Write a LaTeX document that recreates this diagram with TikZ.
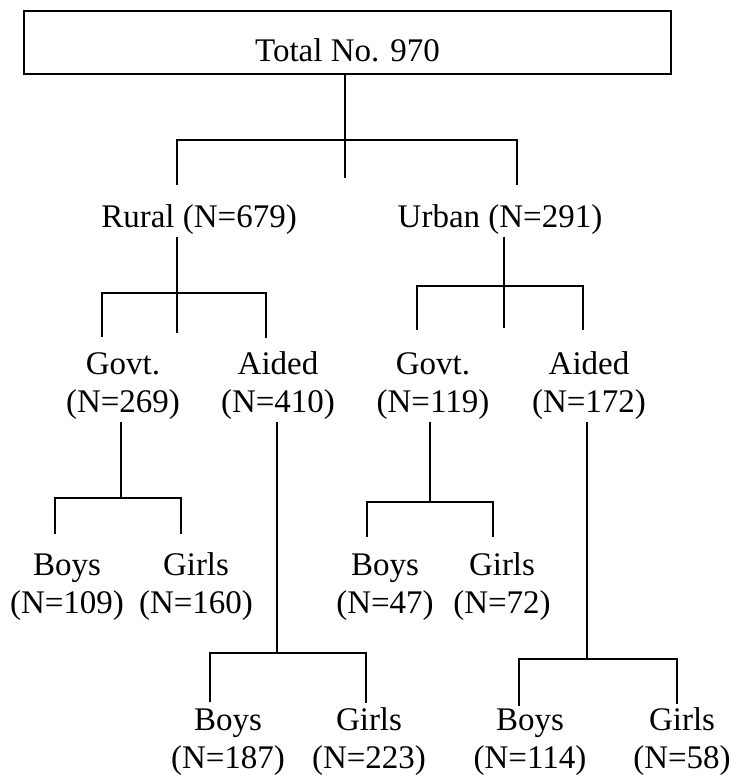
\documentclass[tikz,border=0pt]{standalone}
\usepackage{fontspec}
\setmainfont{Liberation Serif}
\begin{document}
\begin{tikzpicture}[x=1pt, y=-1pt, line width=1.6pt,
	lbl/.style={align=center, inner sep=2pt, anchor=base, font=\fontsize{33}{38}\selectfont}]
	\useasboundingbox (0,0) rectangle (740,778);
	
	\node[lbl, draw, minimum width=647pt, inner sep=0pt, text height=51pt, text depth=12pt] (total) at (347.5,62) {Total No. 970};
	
	\node[lbl] (rural) at (199,227) {Rural (N=679)};
	\node[lbl] (urban) at (500,227) {Urban (N=291)};
	
	\node[lbl] (rgov) at (123,412) {Govt.\\(N=269)};
	\node[lbl] (raid) at (278,412) {Aided\\(N=410)};
	\node[lbl] (ugov) at (433,412) {Govt.\\(N=119)};
	\node[lbl] (uaid) at (589,412) {Aided\\(N=172)};
	
	\node[lbl] (rgovb) at (67,613) {Boys\\(N=109)};
	\node[lbl] (rgovg) at (196,613) {Girls\\(N=160)};
	\node[lbl] (ugovb) at (385,613) {Boys\\(N=47)};
	\node[lbl] (ugovg) at (502,613) {Girls\\(N=72)};
	
	\node[lbl] (raidb) at (228,768) {Boys\\(N=187)};
	\node[lbl] (raidg) at (369,768) {Girls\\(N=223)};
	\node[lbl] (uaidb) at (530,768) {Boys\\(N=114)};
	\node[lbl] (uaidg) at (682,768) {Girls\\(N=58)};
	
	\coordinate (j0) at (345,140);
	\coordinate (j0e) at (345,178);
	\coordinate (rural-in) at (177,185);
	\coordinate (urban-in) at (517,185);
	\draw (total.south -| j0) -- (j0e);
	\draw (rural-in) |- (j0) -| (urban-in);
	
	\coordinate (jr) at (177,293);
	\coordinate (jre) at (177,333);
	\coordinate (rgov-in) at (102,337);
	\coordinate (raid-in) at (266,338);
	\draw (rural.south -| jr) -- (jre);
	\draw (rgov-in) |- (jr) -| (raid-in);
	
	\coordinate (ju) at (504,286);
	\coordinate (jue) at (504,328);
	\coordinate (ugov-in) at (417,330);
	\coordinate (uaid-in) at (583,330);
	\draw (urban.south -| ju) -- (jue);
	\draw (ugov-in) |- (ju) -| (uaid-in);
	
	\coordinate (jrg) at (121,498);
	\coordinate (rgovb-in) at (55,534);
	\coordinate (rgovg-in) at (181,534);
	\draw (rgov.south -| jrg) -- (jrg);
	\draw (rgovb-in) |- (jrg) -| (rgovg-in);
	
	\coordinate (jug) at (430,502);
	\coordinate (ugovb-in) at (367,537);
	\coordinate (ugovg-in) at (493,537);
	\draw (ugov.south -| jug) -- (jug);
	\draw (ugovb-in) |- (jug) -| (ugovg-in);
	
	\coordinate (jra) at (277,653);
	\coordinate (raidb-in) at (210,702);
	\coordinate (raidg-in) at (366,703);
	\draw (raid.south -| jra) -- (jra);
	\draw (raidb-in) |- (jra) -| (raidg-in);
	
	\coordinate (jua) at (587,659);
	\coordinate (uaidb-in) at (519,706);
	\coordinate (uaidg-in) at (677,704);
	\draw (uaid.south -| jua) -- (jua);
	\draw (uaidb-in) |- (jua) -| (uaidg-in);
	
\end{tikzpicture}
\end{document}
